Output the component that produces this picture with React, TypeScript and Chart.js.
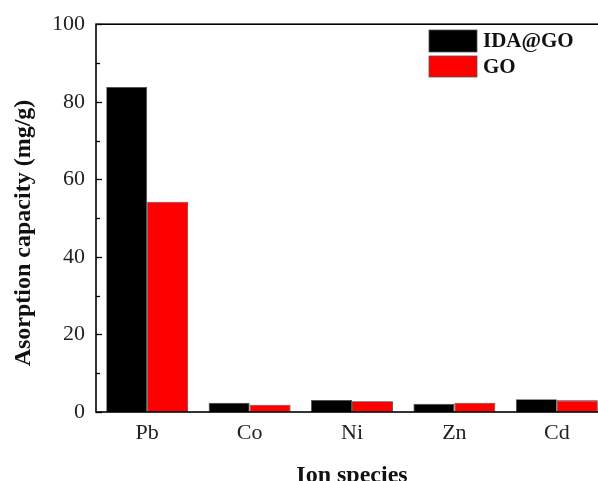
import React, { useEffect, useRef } from "react";
import { Chart, registerables } from "chart.js";

Chart.register(...registerables);

const categories = ["Pb", "Co", "Ni", "Zn", "Cd"];
const idaGo = [83.8, 2.4, 3.1, 2.1, 3.3];
const go = [54.2, 1.9, 2.8, 2.4, 3.0];
const seriesNames = ["IDA@GO", "GO"];
const seriesColors = ["#000000", "#ff0000"];
const yTitle = "Asorption capacity (mg/g)";
const xTitle = "Ion species";

const SERIF = "'Liberation Serif', 'Times New Roman', serif";

const framePlugin = {
  id: "frame",
  afterDatasetsDraw(chart: any) {
    const { ctx, chartArea } = chart;
    const y = chart.scales.y;
    ctx.save();
    ctx.strokeStyle = "#000";
    ctx.lineWidth = 1.6;
    ctx.strokeRect(chartArea.left, chartArea.top, chartArea.right - chartArea.left, chartArea.bottom - chartArea.top);
    // y ticks (inside), major and minor
    ctx.lineWidth = 1.3;
    for (let v = 0; v <= 100; v += 10) {
      const py = Math.round(y.getPixelForValue(v)) + 0.5;
      const len = v % 20 === 0 ? 6 : 4;
      ctx.beginPath();
      ctx.moveTo(chartArea.left, py);
      ctx.lineTo(chartArea.left + len, py);
      ctx.stroke();
    }
    // y title
    ctx.translate(24, 233);
    ctx.rotate(-Math.PI / 2);
    ctx.font = `bold 24px ${SERIF}`;
    ctx.fillStyle = "#111";
    ctx.textAlign = "center";
    ctx.textBaseline = "middle";
    ctx.fillText(yTitle, 0, 0);
    ctx.restore();

    // legend
    ctx.save();
    const lx = chartArea.left + 333;
    const boxes = [
      { top: 30, h: 22 },
      { top: 56, h: 21 },
    ];
    chart.data.datasets.forEach((ds: any, i: number) => {
      const b = boxes[i];
      ctx.fillStyle = ds.backgroundColor;
      ctx.fillRect(lx, b.top, 48, b.h);
      ctx.strokeStyle = "#555";
      ctx.lineWidth = 0.8;
      ctx.strokeRect(lx, b.top, 48, b.h);
      ctx.fillStyle = "#111";
      ctx.font = `bold 21px ${SERIF}`;
      ctx.textAlign = "left";
      ctx.textBaseline = "middle";
      ctx.fillText(ds.label, lx + 54, b.top + b.h / 2 + 1);
    });
    ctx.restore();
  },
};

export default function App() {
  const ref = useRef<HTMLCanvasElement | null>(null);
  useEffect(() => {
    if (!ref.current) return;
    const chart = new Chart(ref.current, {
      type: "bar",
      data: {
        labels: categories,
        datasets: [
          { label: seriesNames[0], data: idaGo, backgroundColor: seriesColors[0], borderColor: "#444", borderWidth: 0.8 },
          { label: seriesNames[1], data: go, backgroundColor: seriesColors[1], borderColor: "#333", borderWidth: 0.8 },
        ],
      },
      options: {
        responsive: false,
        animation: false,
        devicePixelRatio: 1,
        layout: { padding: { top: 22, right: 12, left: 0, bottom: 0 } },
        datasets: { bar: { categoryPercentage: 0.8, barPercentage: 1.0 } },
        plugins: { legend: { display: false }, tooltip: { enabled: false } },
        scales: {
          x: {
            type: "category",
            grid: { display: false, drawTicks: false },
            border: { display: false },
            ticks: { font: { family: SERIF, size: 22 }, color: "#222", padding: 8 },
            title: {
              display: true,
              text: xTitle,
              font: { family: SERIF, size: 24, weight: "bold" },
              color: "#111",
              padding: { top: 0, bottom: 0 },
            },
            afterFit: (s: any) => {
              s.height = 78;
            },
          },
          y: {
            min: 0,
            max: 100,
            grid: { display: false, drawTicks: false },
            border: { display: false },
            ticks: { stepSize: 20, font: { family: SERIF, size: 22 }, color: "#222", padding: 11 },
            afterFit: (s: any) => {
              s.width = 96;
            },
          },
        },
      },
      plugins: [framePlugin],
    } as any);
    return () => chart.destroy();
  }, []);
  return (
    <div style={{ position: "absolute", left: 0, top: 0, width: 620, height: 490, background: "#fff" }}>
      <canvas ref={ref} width={620} height={490} />
    </div>
  );
}
